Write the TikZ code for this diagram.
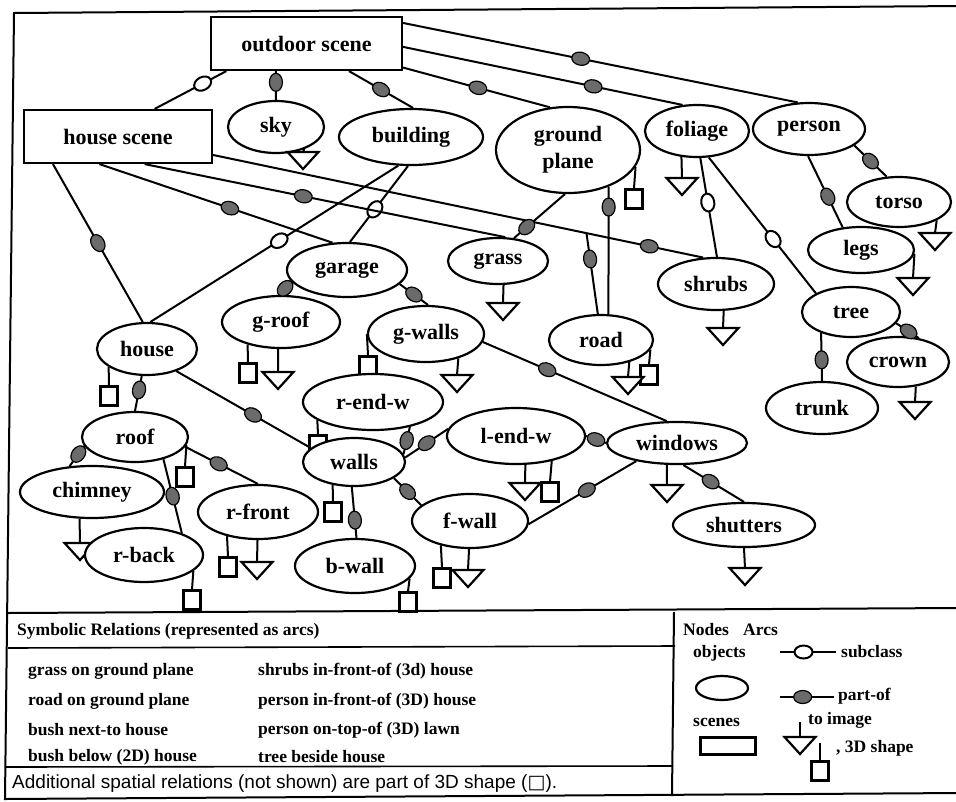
\documentclass[tikz,border=0pt]{standalone}
\usepackage{fontspec}
\setmainfont{Liberation Serif}
\newfontfamily\sansfam{Liberation Sans}
\newfontfamily\symfam{DejaVu Sans}
\usetikzlibrary{shapes.geometric}
\newcommand\ndfont{\bfseries\fontsize{22}{27}\selectfont}
\newcommand\rowfont{\bfseries\fontsize{17.5}{20}\selectfont}
\newcommand\legfont{\bfseries\fontsize{17.5}{19}\selectfont}
\begin{document}
\begin{tikzpicture}[x=1pt,y=-1pt,
  ln/.style={line width=2pt},
  obj/.style={ellipse, draw, line width=2.2pt, fill=white, inner sep=0pt, font=\ndfont},
  scn/.style={rectangle, draw, line width=2.2pt, fill=white, inner sep=0pt, font=\ndfont},
  pdot/.style={ellipse, draw, line width=1.2pt, fill=black!58, minimum width=18pt, minimum height=13pt, inner sep=0pt, sloped},
  sdot/.style={ellipse, draw, line width=2pt, fill=white, minimum width=18pt, minimum height=13pt, inner sep=0pt, sloped},
  sq/.style={rectangle, draw, line width=2.2pt, fill=white, minimum width=17pt, minimum height=19pt, inner sep=0pt},
  imgtri/.pic={\coordinate (-top) at (0,0);
     \draw[line width=2.2pt, fill=white, line join=miter] (-15.5,0) -- (15.5,0) -- (0,17) -- cycle;},
  rowtxt/.style={anchor=west, inner sep=0pt, font=\rowfont},
  legtxt/.style={anchor=west, inner sep=0pt, font=\legfont}
]
\useasboundingbox (0,0) rectangle (956,801);
% frame
\draw[line width=2pt] (961,6) -- (14,13) -- (5,799) -- (961,793);
\draw[line width=2pt] (8,613) -- (961,608);
\draw[line width=1.6pt] (8,648) -- (675,646);
\draw[line width=2pt] (674,612) -- (672,796);
\draw[line width=1.6pt] (6,767) -- (673,766);

% scenes
\node[scn, minimum width=191pt, minimum height=53pt] (outdoor) at (306.5,43.5) {outdoor scene};
\node[scn, minimum width=188pt, minimum height=53pt] (hscene) at (118,136.5) {house scene};

% objects
\node[obj, minimum width=96pt, minimum height=52pt] (sky) at (276,127) {sky};
\node[obj, minimum width=144pt, minimum height=56pt] (building) at (411,137) {building};
\node[obj, minimum width=144pt, minimum height=86pt, align=center] (ground) at (568,150) {ground\\plane};
\node[obj, minimum width=104pt, minimum height=52pt] (foliage) at (697,131) {foliage};
\node[obj, minimum width=112pt, minimum height=52pt] (person) at (809,129) {person};
\node[obj, minimum width=104pt, minimum height=50pt] (torso) at (899,202) {torso};
\node[obj, minimum width=100pt, minimum height=46pt] (grass) at (498,261) {grass};
\node[obj, minimum width=104pt, minimum height=50pt] (road) at (601,340) {road};
\node[obj, minimum width=116pt, minimum height=52pt] (shrubs) at (716,284) {shrubs};
\node[obj, minimum width=106pt, minimum height=46pt] (legs) at (861,250) {legs};
\node[obj, minimum width=98pt, minimum height=50pt] (tree) at (851,312) {tree};
\node[obj, minimum width=102pt, minimum height=50pt] (crown) at (898,362) {crown};
\node[obj, minimum width=112pt, minimum height=52pt] (trunk) at (822,408) {trunk};
\node[obj, minimum width=100pt, minimum height=52pt] (house) at (147,349) {house};
\node[obj, minimum width=106pt, minimum height=50pt] (roof) at (135,437) {roof};
\node[obj, minimum width=144pt, minimum height=52pt] (chimney) at (92,492) {chimney};
\pic (tchimney) at (80,543) {imgtri};
\node[obj, minimum width=118pt, minimum height=54pt] (rback) at (144,555) {r-back};
\node[obj, minimum width=120pt, minimum height=54pt] (rfront) at (258,512) {r-front};
\node[obj, minimum width=120pt, minimum height=54pt] (garage) at (347,270) {garage};
\node[obj, minimum width=118pt, minimum height=52pt] (groof) at (281,322) {g-roof};
\node[sq] (sqgwalls) at (368,366) {};
\node[obj, minimum width=116pt, minimum height=56pt] (gwalls) at (426,334) {g-walls};
\node[obj, minimum width=140pt, minimum height=56pt] (rendw) at (373,402) {r-end-w};
\node[sq] (sqrendw) at (318,445) {};
\node[obj, minimum width=102pt, minimum height=48pt] (walls) at (354,462) {walls};
\node[obj, minimum width=138pt, minimum height=56pt] (lendw) at (516,436) {l-end-w};
\node[obj, minimum width=140pt, minimum height=42pt] (windows) at (677,443) {windows};
\node[obj, minimum width=142pt, minimum height=44pt] (shutters) at (744,525) {shutters};
\node[obj, minimum width=116pt, minimum height=54pt] (fwall) at (470,521) {f-wall};
\node[obj, minimum width=120pt, minimum height=54pt] (bwall) at (355,566) {b-wall};

% 3D shape squares
\node[sq] (sqground) at (634,199) {};
\node[sq] (sqroad) at (649,375) {};
\node[sq] (sqhouse) at (109,396) {};
\node[sq] (sqroof) at (185,477) {};
\node[sq] (sqrback) at (192,600) {};
\node[sq] (sqrfront) at (228,567) {};
\node[sq] (sqgroof) at (248,373) {};
\node[sq] (sqwalls) at (333,512) {};
\node[sq] (sqbwall) at (408,602) {};
\node[sq] (sqfwall) at (442,578) {};
\node[sq] (sqlendw) at (550,492) {};

% image triangles
\pic (tsky) at (303,152) {imgtri};
\pic (tfoliage) at (682,178) {imgtri};
\pic (ttorso) at (935,233) {imgtri};
\pic (tlegs) at (913,278) {imgtri};
\pic (tcrown) at (915,402) {imgtri};
\pic (tgrass) at (503,303) {imgtri};
\pic (tshrubs) at (723,328) {imgtri};
\pic (troad) at (628,377) {imgtri};
\pic (tgroof) at (278,372) {imgtri};
\pic (tgwalls) at (457,375) {imgtri};
\pic (trfront) at (257,562) {imgtri};
\pic (tlendw) at (525,483) {imgtri};
\pic (twindows) at (667,485) {imgtri};
\pic (tshutters) at (745,568) {imgtri};
\pic (tfwall) at (468,570) {imgtri};

% stems
\draw[ln] (sky.-38.5) -- (tsky-top);
\draw[ln] (foliage.-121) -- (tfoliage-top);
\draw[ln] (torso.-26.6) -- (ttorso-top);
\draw[ln] (legs.-4.4) -- (tlegs-top);
\draw[ln] (crown.-54.2) -- (tcrown-top);
\draw[ln] (grass.-77.7) -- (tgrass-top);
\draw[ln] (shrubs.-74.8) -- (tshrubs-top);
\draw[ln] (road.-38.4) -- (troad-top);
\draw[ln] (groof.-96.6) -- (tgroof-top);
\draw[ln] (gwalls.-37.4) -- (tgwalls-top);
\draw[ln] (rfront.-91) -- (trfront-top);
\draw[ln] (chimney.-115) -- (tchimney-top);
\draw[ln] (lendw.-72) -- (tlendw-top);
\draw[ln] (windows.-115.7) -- (twindows-top);
\draw[ln] (shutters.south) -- (tshutters-top);
\draw[ln] (fwall.-92) -- (tfwall-top);
\draw[ln] (ground.-14.6) -- (sqground.north);
\draw[ln] (road.-11.3) -- (sqroad.north);
\draw[ln] (house.-155.9) -- (sqhouse.north);
\draw[ln] (roof.-9.4) -- (sqroof.north);
\draw[ln] (rback.-18.1) -- (sqrback.north);
\draw[ln] (rfront.-142) -- (sqrfront.north);
\draw[ln] (groof.-146.9) -- (sqgroof.north);
\draw[ln] (gwalls.180) -- (sqgwalls.north);
\draw[ln] (rendw.-162.5) -- (sqrendw.north);
\draw[ln] (walls.-133.8) -- (sqwalls.north);
\draw[ln] (bwall.-13.5) -- (sqbwall.north);
\draw[ln] (fwall.-140.1) -- (sqfwall.north);
\draw[ln] (lendw.-35.7) -- (sqlendw.north);

% subclass arcs
\draw[ln] (outdoor.-161.6) -- node[sdot,pos=0.33]{} (hscene.37.9);
\draw[ln] (building.-114.9) -- node[sdot,pos=0.48]{} (house.83);
\draw[ln] (building.-96) -- node[sdot,pos=0.57]{} (garage.84);
\draw[ln] (foliage.-83.4) -- node[sdot,pos=0.45]{} (shrubs.88);
\draw[ln] (foliage.-66) -- node[sdot,pos=0.6]{} (tree.152);

% part-of arcs
\draw[ln] (outdoor.-138) -- node[pdot,pos=0.39]{} (sky.north);
\draw[ln] (outdoor.-33.2) -- node[pdot,pos=0.5]{} (building.86);
\draw[ln] (outdoor.-14.4) -- node[pdot,pos=0.51]{} (ground.113.2);
\draw[ln] (outdoor.-2.7) -- node[pdot,pos=0.68]{} (foliage.119);
\draw[ln] (outdoor.12.7) -- node[pdot,pos=0.45]{} (person.113);
\draw[ln] (hscene.-157.2) -- node[pdot,pos=0.5]{} (house.99);
\draw[ln] (hscene.-124.2) -- node[pdot,pos=0.56]{} (garage.118);
\draw[ln] (hscene.-46.7) -- node[pdot,pos=0.44]{} (grass.73);
\draw[ln] (hscene.-11.1) -- coordinate[pos=0.762] (rjoin) node[pdot,pos=0.89]{} (shrubs.116.6);
\draw[ln] (rjoin) -- node[pdot,pos=0.32]{} (road.97);
\draw[ln] (ground.-94) -- node[pdot,pos=0.75]{} (grass.55.7);
\draw[ln] (ground.-42) -- node[pdot,pos=0.16]{} (road.74);
\draw[ln] (person.-20) -- node[pdot,pos=0.5]{} (torso.116.6);
\draw[ln] (person.-92) -- node[pdot,pos=0.57]{} (legs.129);
\draw[ln] (tree.-14) -- node[pdot,pos=0.55]{} (crown.49);
\draw[ln] (tree.-145.4) -- node[pdot,pos=0.56]{} (trunk.north);
\draw[ln] (house.-101) -- node[pdot,pos=0.4]{} (roof.north);
\draw[ln] (house.-37.5) -- node[pdot,pos=0.57]{} (walls.162);
\draw[ln] (roof.-170.9) -- node[pdot,pos=0.4]{} (chimney.131.6);
\draw[ln] (roof.-38.5) -- node[pdot,pos=0.5]{} (rback.30.7);
\draw[ln] (roof.-11) -- node[pdot,pos=0.46]{} (rfront.north);
\draw[ln] (garage.-168.9) -- node[pdot,pos=0.5]{} (groof.95);
\draw[ln] (garage.-15.6) -- node[pdot,pos=0.5]{} (gwalls.86);
\draw[ln] (gwalls.-8) -- node[pdot,pos=0.35]{} (windows.115.7);
\draw[ln] (rendw.-34.7) -- node[pdot,pos=0.5]{} (walls.9.6);
\draw[ln] (walls.5) -- node[pdot,pos=0.5]{} (lendw.174);
\draw[ln] (lendw.east) -- node[pdot,pos=0.5]{} (windows.west);
\draw[ln] (windows.-74) -- node[pdot,pos=0.45]{} (shutters.north);
\draw[ln] (fwall.-3) -- node[pdot,pos=0.54]{} (windows.-156);
\draw[ln] (walls.-22.8) -- node[pdot,pos=0.5]{} (fwall.162.4);
\draw[ln] (walls.-95) -- node[pdot,pos=0.65]{} (bwall.87);

% symbolic relations table
\node[rowtxt] (symhead) at (17,631) {Symbolic Relations (represented as arcs)};
\node[rowtxt] (r1a) at (28,671) {grass on ground plane};
\node[rowtxt] (r2a) at (28,701) {road on ground plane};
\node[rowtxt] (r3a) at (28,730) {bush next-to house};
\node[rowtxt] (r4a) at (28,757) {bush below (2D) house};
\node[rowtxt] (r1b) at (258,671) {shrubs in-front-of (3d) house};
\node[rowtxt] (r2b) at (258,701) {person in-front-of (3D) house};
\node[rowtxt] (r3b) at (258,730) {person on-top-of (3D) lawn};
\node[rowtxt] (r4b) at (258,757) {tree beside house};
\node[anchor=west, inner sep=0pt, font=\sansfam\fontsize{19}{21}\selectfont] (addl) at (12,784)
  {Additional spatial relations (not shown) are part of 3D shape ({\symfam □}).};

% legend
\node[legtxt] (hnodes) at (683,630) {Nodes};
\node[legtxt] (harcs) at (743,630) {Arcs};
\node[legtxt] (lobj) at (693,653) {objects};
\node[ellipse, draw, line width=2.2pt, minimum width=52pt, minimum height=24pt] (lell) at (722,688) {};
\node[legtxt] (lscn) at (693,722) {scenes};
\node[rectangle, draw, line width=2.2pt, minimum width=55pt, minimum height=17pt] (lrect) at (728,746) {};
\coordinate (ls1) at (780,652); \coordinate (ls2) at (836,652);
\draw[ln] (ls1) -- node[sdot,pos=0.42]{} (ls2);
\node[legtxt] (lsub) at (841,652) {subclass};
\coordinate (lp1) at (780,697); \coordinate (lp2) at (834,697);
\draw[ln] (lp1) -- node[pdot,pos=0.42]{} (lp2);
\node[legtxt] (lpart) at (838,696) {part-of};
\pic (ltri) at (800,737) {imgtri};
\coordinate (ltis) at (800,722);
\draw[ln] (ltis) -- (ltri-top);
\node[legtxt] (limg) at (808,720) {to image};
\node[sq] (lsq) at (820,771) {};
\coordinate (lsqs) at (820,743);
\draw[ln] (lsqs) -- (lsq.north);
\node[legtxt] (l3d) at (836,748) {, 3D shape};
\end{tikzpicture}
\end{document}
